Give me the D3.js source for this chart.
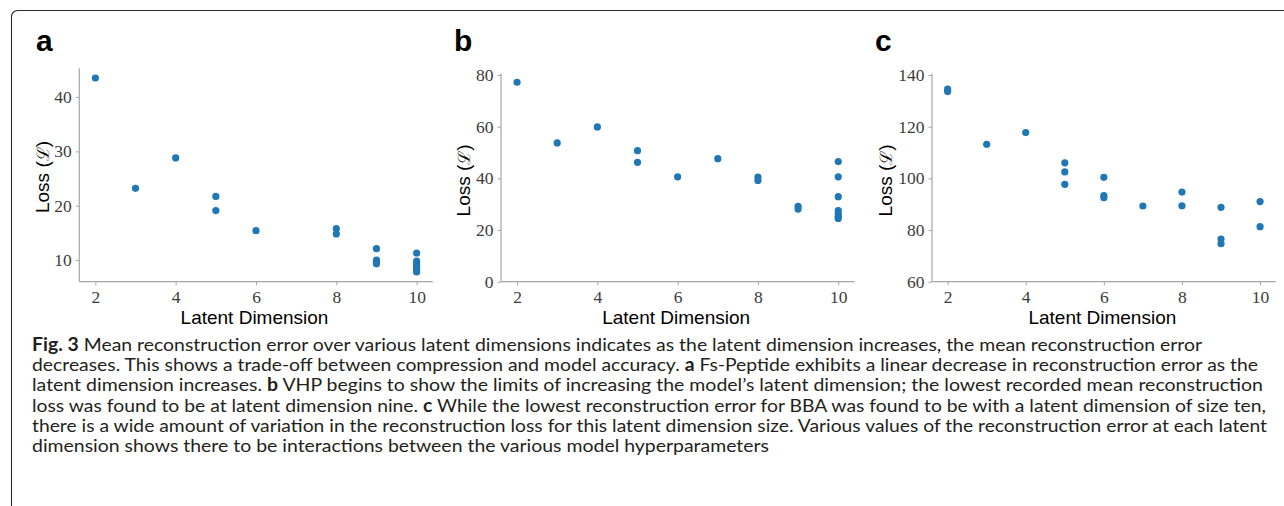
<!DOCTYPE html>
<html>
<head>
<meta charset="utf-8">
<script src="https://cdn.jsdelivr.net/npm/d3@7"></script>
<style>
  html, body { margin: 0; padding: 0; background: #fff; }
  svg { display: block; }
</style>
</head>
<body>
<svg id="chart" width="1284" height="506"></svg>
<script>
// ---------- data ----------
const panelLetters = ["a", "b", "c"];
const xTicks = [2, 4, 6, 8, 10];

const latentA = [2, 3, 4, 5, 5, 6, 8, 8, 9, 9, 9, 9, 10, 10, 10, 10, 10, 10];
const lossA   = [43.5, 23.2, 28.8, 21.7, 19.1, 15.4, 15.8, 14.8, 12.1, 10.0, 9.6, 9.3, 11.3, 9.8, 9.2, 8.7, 8.3, 7.8];
const yTicksA = [10, 20, 30, 40];

const latentB = [2, 3, 4, 5, 5, 6, 7, 8, 8, 9, 9, 10, 10, 10, 10, 10, 10, 10];
const lossB   = [77.2, 53.7, 59.9, 50.7, 46.2, 40.6, 47.6, 40.5, 39.2, 29.2, 28.1, 46.5, 40.6, 32.9, 27.5, 26.3, 25.3, 24.5];
const yTicksB = [0, 20, 40, 60, 80];

const latentC = [2, 2, 3, 4, 5, 5, 5, 6, 6, 6, 7, 8, 8, 9, 9, 9, 10, 10];
const lossC   = [134.5, 133.6, 113.2, 117.7, 106.0, 102.5, 97.7, 100.4, 93.3, 92.5, 89.3, 94.7, 89.4, 88.8, 76.5, 74.7, 91.0, 81.3];
const yTicksC = [60, 80, 100, 120, 140];

const xLabel = "Latent Dimension";

const captionLines = [
  [["Fig. 3", true], [" Mean reconstruction error over various latent dimensions indicates as the latent dimension increases, the mean reconstruction error", false]],
  [["decreases. This shows a trade-off between compression and model accuracy. ", false], ["a", true], [" Fs-Peptide exhibits a linear decrease in reconstruction error as the", false]],
  [["latent dimension increases. ", false], ["b", true], [" VHP begins to show the limits of increasing the model\u2019s latent dimension; the lowest recorded mean reconstruction", false]],
  [["loss was found to be at latent dimension nine. ", false], ["c", true], [" While the lowest reconstruction error for BBA was found to be with a latent dimension of size ten,", false]],
  [["there is a wide amount of variation in the reconstruction loss for this latent dimension size. Various values of the reconstruction error at each latent", false]],
  [["dimension shows there to be interactions between the various model hyperparameters", false]]
];

// ---------- layout ----------
const captionWidths = [1170, 1226, 1231, 1234, 1235, 737];
const panels = [
  { x: latentA, y: lossA, ticks: yTicksA, domain: null,      left: 79.3,  right: 432.7,  top: 68.3, bottom: 281.7, yTop: 68.3, labelX: 48.5,  letterX: 36 },
  { x: latentB, y: lossB, ticks: yTicksB, domain: [0, 80],   left: 501,   right: 854.3,  top: 75,   bottom: 281.7, yTop: 73.5, labelX: 470,   letterX: 454 },
  { x: latentC, y: lossC, ticks: yTicksC, domain: [60, 140], left: 932,   right: 1275.7, top: 75,   bottom: 281.7, yTop: 73.5, labelX: 891.7, letterX: 875 }
];

const svg = d3.select("#chart");
const spineColor = "#a6a6a6";
const tickTextColor = "#3c3c3c";
const dotColor = "#1f77b4";

// outer frame
svg.append("rect")
  .attr("x", 11.5).attr("y", 10.5)
  .attr("width", 1400).attr("height", 600)
  .attr("rx", 6).attr("ry", 6)
  .attr("fill", "none").attr("stroke", "#2b2b2b").attr("stroke-width", 1.1);

panels.forEach((p, i) => {
  let dom = p.domain;
  if (!dom) {
    const mn = d3.min(p.y), mx = d3.max(p.y), m = (mx - mn) * 0.05;
    dom = [mn - m, mx + m];
  }
  const xs = d3.scaleLinear().domain([1.6, 10.4]).range([p.left, p.right]);
  const ys = d3.scaleLinear().domain(dom).range([p.bottom, p.top]);
  const g = svg.append("g");

  // y axis
  const yAxis = d3.axisLeft(ys).tickValues(p.ticks).tickSize(3.5).tickPadding(4).tickFormat(d3.format("d"));
  const yg = g.append("g").attr("transform", `translate(${p.left},0)`).call(yAxis);
  yg.select(".domain").remove();
  yg.append("line").attr("x1", 0).attr("x2", 0).attr("y1", p.bottom).attr("y2", p.yTop)
    .attr("stroke", spineColor).attr("stroke-width", 1.2);

  // x axis
  const xAxis = d3.axisBottom(xs).tickValues(xTicks).tickSize(3.5).tickPadding(5).tickFormat(d3.format("d"));
  const xg = g.append("g").attr("transform", `translate(0,${p.bottom})`).call(xAxis);
  xg.select(".domain").remove();
  xg.append("line").attr("x1", p.left).attr("x2", p.right).attr("y1", 0).attr("y2", 0)
    .attr("stroke", spineColor).attr("stroke-width", 1.2);

  [yg, xg].forEach(ax => {
    ax.selectAll(".tick line").attr("stroke", spineColor).attr("stroke-width", 1);
    ax.selectAll(".tick text")
      .attr("fill", tickTextColor)
      .style("font-family", "'Liberation Serif', 'DejaVu Serif', serif")
      .style("font-size", "17.5px");
  });

  // points
  g.append("g").selectAll("circle")
    .data(p.x.map((d, k) => [d, p.y[k]]))
    .join("circle")
    .attr("cx", d => xs(d[0]))
    .attr("cy", d => ys(d[1]))
    .attr("r", 3.6)
    .attr("fill", dotColor);

  // x label
  g.append("text")
    .attr("x", (p.left + p.right) / 2 - 1.5)
    .attr("y", 324)
    .attr("text-anchor", "middle")
    .style("font-family", "'Liberation Sans', Arial, sans-serif")
    .style("font-size", "19px")
    .attr("fill", "#000")
    .text(xLabel);

  // y label
  const cy = (p.top + p.bottom) / 2 + 2;
  const yl = g.append("text")
    .attr("transform", `translate(${p.labelX},${cy}) rotate(-90)`)
    .attr("text-anchor", "middle")
    .style("font-family", "'Liberation Sans', Arial, sans-serif")
    .style("font-size", "19px")
    .attr("fill", "#000");
  yl.append("tspan").text("Loss (");
  yl.append("tspan").style("font-family", "'DejaVu Serif', serif").style("font-size", "17px").text("\u2112");
  yl.append("tspan").text(")");

  // panel letter
  svg.append("text")
    .attr("x", p.letterX).attr("y", 50.7)
    .style("font-family", "'Liberation Sans', Arial, sans-serif")
    .style("font-weight", "bold")
    .style("font-size", "30px")
    .attr("fill", "#000")
    .text(panelLetters[i]);
});

// caption
captionLines.forEach((line, i) => {
  const t = svg.append("text")
    .attr("x", 32)
    .attr("y", 350.5 + i * 20.35)
    .attr("textLength", captionWidths[i])
    .attr("lengthAdjust", "spacingAndGlyphs")
    .style("font-family", "Lato, 'Open Sans', sans-serif")
    .style("font-size", "18px")
    .attr("fill", "#231f20");
  line.forEach(([s, b]) => {
    t.append("tspan").style("font-weight", b ? "bold" : "normal").text(s);
  });
});
</script>
</body>
</html>
